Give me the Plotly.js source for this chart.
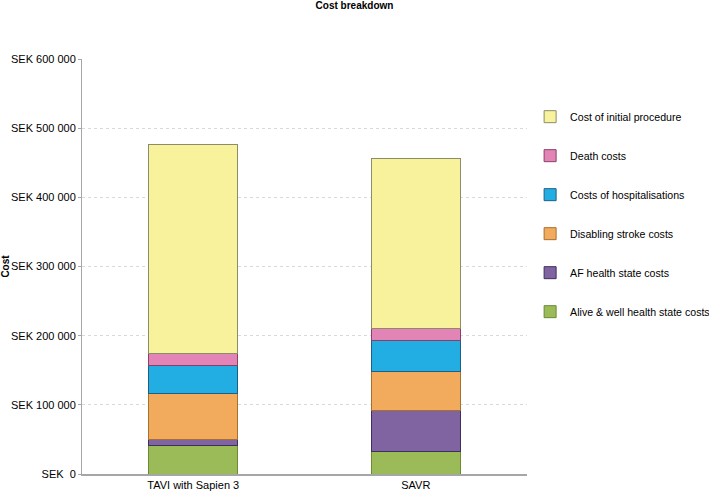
<!DOCTYPE html>
<html>
<head>
<meta charset="utf-8">
<script src="https://cdn.plot.ly/plotly-3.0.1.min.js"></script>
<style>html,body{margin:0;padding:0;background:#fff;}#chart{width:709px;height:493px;}</style>
</head>
<body>
<div id="chart"></div>
<script>
const categories = ["TAVI with Sapien 3", "SAVR"];
const seriesNames = [
  "Alive & well health state costs",
  "AF health state costs",
  "Disabling stroke costs",
  "Costs of hospitalisations",
  "Death costs",
  "Cost of initial procedure"
];
const aliveWell = [41000, 32000];
const afCosts = [8600, 60000];
const strokeCosts = [67000, 56000];
const hospitalisationCosts = [40500, 44800];
const deathCosts = [17400, 17900];
const initialProcedure = [302000, 244800];
const tickValues = [0, 100000, 200000, 300000, 400000, 500000, 600000];
const tickLabels = ["SEK  0", "SEK 100 000", "SEK 200 000", "SEK 300 000", "SEK 400 000", "SEK 500 000", "SEK 600 000"];

const seriesValues = [aliveWell, afCosts, strokeCosts, hospitalisationCosts, deathCosts, initialProcedure];
const colors = ["#9BBB59", "#8064A2", "#F2AA5C", "#23AEE3", "#E384B6", "#F8F29C"];
const lineColors = ["#6b8a35", "#3f2e5e", "#a8702e", "#1f5f85", "#8a3f66", "#8c8c6a"];

const traces = seriesValues.map((vals, i) => ({
  type: "bar",
  x: categories,
  y: vals,
  name: seriesNames[i],
  legendgroup: "g" + i,
  legendrank: 100 - i * 10,
  marker: { color: colors[i], line: { color: lineColors[i], width: 1 } },
  hoverinfo: "name+y"
}));

const layout = {
  width: 709,
  height: 493,
  margin: { l: 82, r: 182, t: 59, b: 19, autoexpand: false },
  paper_bgcolor: "#ffffff",
  plot_bgcolor: "#ffffff",
  font: { family: "Liberation Sans, Arial, sans-serif", size: 11, color: "#000" },
  barmode: "stack",
  bargap: 0.6,
  title: {
    text: "<b>Cost breakdown</b>",
    font: { size: 10, color: "#000" },
    x: 0.5, xref: "container",
    y: 0.995, yref: "container", yanchor: "top"
  },
  xaxis: {
    showline: true,
    linecolor: "#a6a6a6",
    linewidth: 2,
    ticks: "",
    showgrid: false,
    tickfont: { size: 11 },
    zeroline: false,
    fixedrange: true
  },
  yaxis: {
    range: [0, 600000],
    tickvals: tickValues,
    ticktext: tickLabels,
    showline: true,
    linecolor: "#a6a6a6",
    linewidth: 1,
    ticks: "outside",
    ticklen: 3,
    tickcolor: "#a6a6a6",
    showgrid: true,
    gridcolor: "#d9d9d9",
    griddash: "3px,3px",
    gridwidth: 1,
    zeroline: false,
    tickfont: { size: 11 },
    title: { text: "<b>Cost</b>", font: { size: 10 }, standoff: 6 },
    fixedrange: true
  },
  legend: {
    x: 1.007, xanchor: "left",
    y: 0.896, yanchor: "top",
    traceorder: "grouped",
    tracegroupgap: 20,
    font: { size: 10.6 },
    bgcolor: "rgba(0,0,0,0)"
  },
  showlegend: true
};

Plotly.newPlot("chart", traces, layout, { displayModeBar: false, staticPlot: true });
</script>
</body>
</html>
